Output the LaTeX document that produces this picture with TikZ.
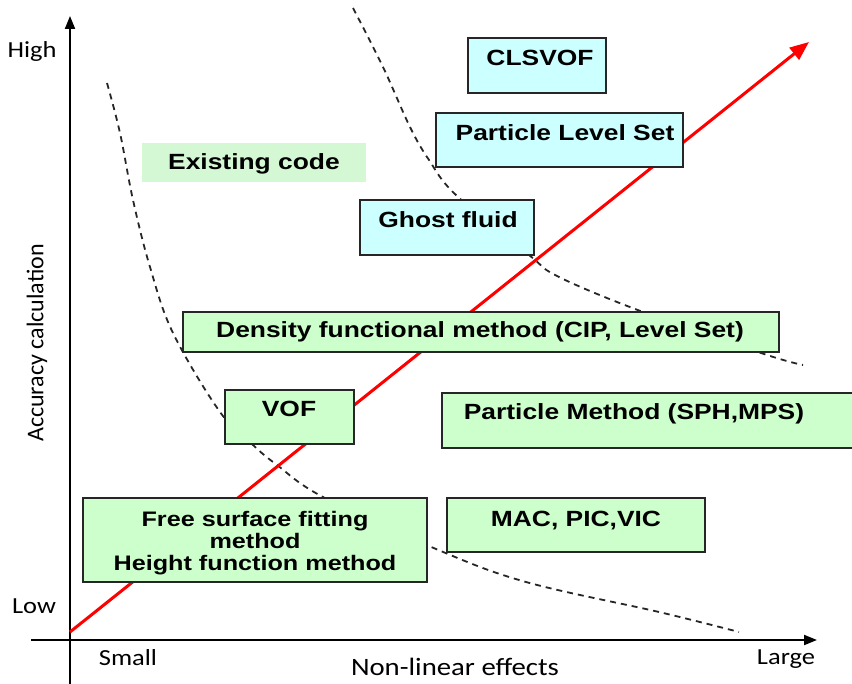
\documentclass[tikz,border=0pt]{standalone}
\usepackage{fontspec}
\setmainfont{Liberation Sans}
\newfontfamily\boxfont[FakeStretch=1.2]{Liberation Sans}
\newfontfamily\axisfont[FakeStretch=1.15]{Carlito}
\newfontfamily\axisfontup{Carlito}
\usepackage{tikz}
\usetikzlibrary{positioning,arrows.meta}

\definecolor{boxgreen}{RGB}{204,255,204}
\definecolor{boxcyan}{RGB}{204,255,255}
\definecolor{codegreen}{RGB}{212,247,212}

\tikzset{
  method/.style={draw=black!85, line width=2pt, fill=boxgreen, inner sep=0pt},
  levelset/.style={method, fill=boxcyan},
  methodtext/.style={font=\boxfont\bfseries\fontsize{22}{22}\selectfont, inner sep=0pt, text height=16pt, text depth=0pt},
  multitext/.style={font=\boxfont\bfseries\fontsize{21}{22}\selectfont, inner sep=0pt, align=center},
  axislabel/.style={font=\axisfont\fontsize{23}{26}\selectfont, inner sep=0pt},
  limit/.style={black!85, line width=1.8pt, dash pattern=on 6pt off 5pt},
  trend/.style={red, line width=3pt, -{Triangle[length=19pt,width=15pt]}},
  axis/.style={black, line width=2pt, -{Triangle[length=13pt,width=10pt]}}
}

\begin{document}
\begin{tikzpicture}[x=1pt, y=-1pt]
    \useasboundingbox (0,0) rectangle (852,684);

    % Axes
    \coordinate (xstart) at (31,640);
    \coordinate (xend) at (817,640);
    \coordinate (ystart) at (70,684);
    \coordinate (yend) at (70,16);
    \draw[axis] (xstart) -- (xend);
    \draw[axis] (ystart) -- (yend);

    % Limit curves
    \draw[limit] plot[smooth, tension=0.6] coordinates {(107,83) (120,133) (133,200) (150,267) (173,333) (220,412) (253,445) (277,465) (323,497) (436,549) (526,582) (659,612) (739,632)};
    \draw[limit] plot[smooth, tension=0.6] coordinates {(353,8) (383,67) (410,127) (429,160) (456,195) (529,255) (559,277) (643,312) (764,354) (803,365)};

    % Accuracy trend
    \coordinate (rstart) at (70,632);
    \coordinate (rend) at (809,42);
    \draw[trend] (rstart) -- (rend);

    % Level set family
    \node[levelset, minimum width=138pt, minimum height=55pt] (clsvof) at (537,65.5) {};
    \node[methodtext] (clsvoftext) at (540,58) {CLSVOF};
    \node[levelset, minimum width=247pt, minimum height=54pt] (pls) at (559.5,140) {};
    \node[methodtext] (plstext) at (565,133) {Particle Level Set};
    \node[levelset, minimum width=174pt, minimum height=55pt] (ghost) at (447,227.5) {};
    \node[methodtext] (ghosttext) at (448,220) {Ghost fluid};

    % Existing code
    \node[fill=codegreen, minimum width=224pt, minimum height=39pt, inner sep=0pt] (existing) at (254,162.5) {};
    \node[methodtext] (existingtext) at (254,162) {Existing code};

    % Other methods
    \node[method, minimum width=596pt, minimum height=40pt] (density) at (481,332) {};
    \node[methodtext] (densitytext) at (480,330) {Density functional method (CIP, Level Set)};
    \node[method, minimum width=129pt, minimum height=54pt] (vof) at (289.5,417) {};
    \node[methodtext] (voftext) at (289,409) {VOF};
    \node[method, minimum width=420pt, minimum height=55pt] (particle) at (652,420.5) {};
    \node[methodtext] (particletext) at (634,412) {Particle Method (SPH,MPS)};
    \node[method, minimum width=344pt, minimum height=84pt] (free) at (255,540) {};
    \node[multitext] (freetext) at (255,543) {Free surface fitting\\method\\Height function method};
    \node[method, minimum width=258pt, minimum height=54pt] (mac) at (576,525) {};
    \node[methodtext] (mactext) at (576,519) {MAC, PIC,VIC};

    % Axis labels
    \node[axislabel] (high) at (32,51) {High};
    \node[axislabel] (low) at (34,606) {Low};
    \node[axislabel] (small) at (128,658) {Small};
    \node[axislabel] (large) at (786,659) {Large};
    \node[axislabel, font=\axisfont\fontsize{25}{26}\selectfont] (xlabel) at (455,667) {Non-linear effects};
    \node[font=\axisfontup\fontsize{24}{26}\selectfont, inner sep=0pt, rotate=90] (ylabel) at (37,343) {Accuracy calculation};
\end{tikzpicture}
\end{document}
